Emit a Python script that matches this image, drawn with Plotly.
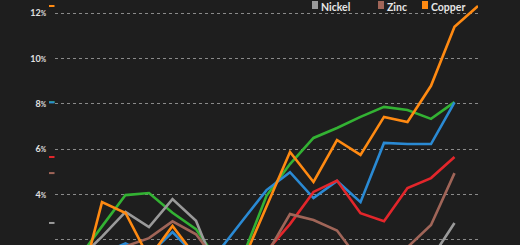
import plotly.graph_objects as go

x_idx = list(range(19))

aluminium = [0.5, 1.2, 2.6, 3.98, 4.07, 3.2, 2.48, 0.98, 1.3, 3.95, 5.35, 6.5, 6.94, 7.43, 7.87, 7.73, 7.34, 8.08, None]
lead      = [0.3, 0.8, 1.4, 1.85, 1.35, 2.35, 1.3, 1.55, 2.88, 4.2, 4.99, 3.85, 4.6, 3.67, 6.28, 6.23, 6.23, 8.07, None]
tin       = [0.6, 0.9, 1.0, 0.8, 1.2, 1.0, 0.7, 0.6, 1.0, 1.5, 2.7, 4.12, 4.62, 3.18, 2.83, 4.29, 4.73, 5.66, None]
nickel    = [0.4, 1.14, 2.15, 3.24, 2.57, 3.8, 2.85, 0.3, 0.5, 0.8, 1.0, 0.9, 0.7, 0.6, 0.8, 0.9, 1.16, 2.75, None]
zinc      = [0.5, 0.9, 1.3, 1.72, 2.08, 2.82, 2.25, 0.9, 0.6, 1.36, 3.14, 2.88, 2.42, 1.03, 0.9, 1.68, 2.66, 4.95, None]
copper    = [0.5, -0.35, 3.67, 3.19, 1.2, 2.62, 1.25, 0.8, 1.07, 3.47, 5.88, 4.56, 6.41, 5.75, 7.43, 7.2, 8.8, 11.4, 12.32]

tick_vals = [2, 4, 6, 8, 10, 12]
tick_text = [f"{v}<span style='font-size:6.5px'>%</span>" for v in tick_vals]

series = [
    ("Aluminium", aluminium, "#33b233", False),
    ("Lead", lead, "#2a8ad4", False),
    ("Tin", tin, "#e3262b", False),
    ("Nickel", nickel, "#9a9a9a", True),
    ("Zinc", zinc, "#a06558", True),
    ("Copper", copper, "#ff8a12", True),
]

fig = go.Figure()
for name, vals, color, _ in series:
    fig.add_trace(go.Scatter(x=x_idx, y=vals, mode="lines", name=name,
                             line=dict(color=color, width=2.6), showlegend=False))

W, H = 520, 245
L, R = 55, 478
pw = R - L

shapes = []
annotations = []
# end-value dashes on the axis
for name, vals, color, _ in series:
    last = [v for v in vals if v is not None][-1]
    shapes.append(dict(type="line", xref="paper", yref="y", x0=-6 / pw, x1=-0.5 / pw,
                       y0=last, y1=last, line=dict(color=color, width=2)))

# legend (visible row)
legend_pos = {"Nickel": 312, "Zinc": 378, "Copper": 422}
for name, vals, color, show in series:
    if not show:
        continue
    px = legend_pos[name]
    shapes.append(dict(type="rect", xref="paper", yref="paper",
                       x0=(px - L) / pw, x1=(px + 6 - L) / pw,
                       y0=1 - 9 / H, y1=1 - 1 / H, fillcolor=color, line=dict(width=0)))
    annotations.append(dict(xref="paper", yref="paper", x=(px + 8 - L) / pw, y=1,
                            xanchor="left", yanchor="top", showarrow=False, borderpad=0,
                            text=f"<b>{name}</b>",
                            font=dict(family="Lato", size=10.5, color="#e6e6e6")))

fig.update_layout(
    width=W, height=H,
    margin=dict(l=L, r=W - R, t=0, b=0, autoexpand=False),
    paper_bgcolor="#1e1e1e", plot_bgcolor="#1e1e1e",
    showlegend=False,
    shapes=shapes, annotations=annotations,
    xaxis=dict(range=[0, 18], showgrid=False, zeroline=False, showticklabels=False,
               showline=False, fixedrange=True),
    yaxis=dict(range=[1.778, 12.585], tickvals=tick_vals, ticktext=tick_text,
               showgrid=True, gridcolor="#8a8a8a", griddash="dot", gridwidth=1,
               zeroline=False, showline=False, ticklabelstandoff=8,
               tickfont=dict(family="Lato", size=9, color="#e0e0e0", weight="bold")),
)

fig.write_html("out.html")
